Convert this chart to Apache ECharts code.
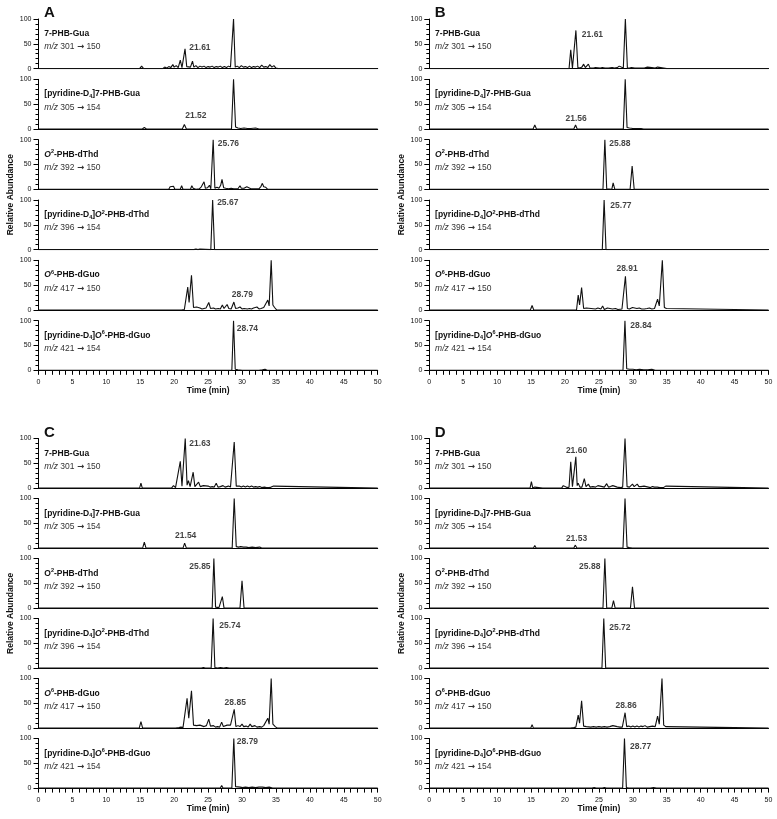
<!DOCTYPE html>
<html>
<head>
<meta charset="utf-8">
<script src="https://cdn.jsdelivr.net/npm/echarts@6/dist/echarts.min.js"></script>
<style>
  html, body { margin: 0; padding: 0; background: #fff; }
  #chart { width: 777px; height: 819px; }
</style>
</head>
<body>
<div id="chart"></div>
<script>
// axis ranges / ticks
const timeRange = [0, 50];
const timeStep = 5;
const abundanceRange = [0, 100];
const abundanceStep = 50;

const panelLetters = ["A", "B", "C", "D"];

// compound names (rich text markup) for panels A/B and C/D
const compoundNamesAB = [
  "{b|7-PHB-Gua}",
  "{b|[pyridine-D}{sub|4}{b|]7-PHB-Gua}",
  "{bi|O}{sup|2}{b|-PHB-dThd}",
  "{b|[pyridine-D}{sub|4}{b|]}{bi|O}{sup|2}{b|-PHB-dThd}",
  "{bi|O}{sup|6}{b|-PHB-dGuo}",
  "{b|[pyridine-D}{sub|4}{b|]}{bi|O}{sup|6}{b|-PHB-dGuo}"
];
const compoundNamesCD = [
  "{b|7-PHB-Gua}",
  "{b|[pyridine-D}{sub|4}{b|]7-PHB-Gua}",
  "{b|O}{sup|2}{b|-PHB-dThd}",
  "{b|[pyridine-D}{sub|4}{b|]}{bi|O}{sup|2}{b|-PHB-dThd}",
  "{bi|O}{sup|6}{b|-PHB-dGuo}",
  "{b|[pyridine-D}{sub|4}{b|]}{bi|O}{sup|6}{b|-PHB-dGuo}"
];
const precursorIons = [301, 305, 392, 396, 417, 421];
const productIons = [150, 154, 150, 154, 150, 154];

// chromatogram traces: [time (min), relative abundance]
const tracesA = [
  [[0,0],[14.9,0],[15.2,5],[15.5,0],[17.0,0],[17.2,1],[17.4,0],[18.3,0],[18.6,3],[18.9,1],[19.2,4],[19.5,2],[19.8,8],[20.0,3],[20.3,6],[20.6,2],[20.9,17],[21.15,2],[21.35,3],[21.6,40],[21.85,4],[22.1,6],[22.4,3],[22.7,15],[22.9,3],[23.2,6],[23.5,2],[23.8,5],[24.1,3],[24.4,5],[24.7,2],[25.0,4],[25.3,3],[25.6,5],[25.9,2],[26.2,4],[26.5,3],[26.8,5],[27.1,2],[27.4,4],[27.7,2],[28.0,5],[28.3,3],[28.5,2],[28.75,100],[29.0,3],[29.3,5],[29.6,2],[29.9,6],[30.2,3],[30.5,4],[30.8,2],[31.1,5],[31.4,2],[31.7,4],[32.0,3],[32.3,5],[32.6,2],[32.9,7],[33.2,3],[33.5,4],[33.8,2],[34.1,8],[34.4,3],[34.7,6],[35.0,1],[35.3,0],[50,0]],
  [[0,0],[15.3,0],[15.6,3],[15.9,0],[21.2,0],[21.5,9],[21.8,0],[27.0,0],[27.2,2],[27.4,0],[28.45,0],[28.75,100],[29.05,4],[29.4,2],[29.8,1],[30.3,2],[30.8,1],[31.3,1],[32.0,2],[32.5,0],[50,0]],
  [[0,0],[15.0,0],[15.2,3],[15.4,0],[16.9,0],[17.1,3],[17.3,0],[19.2,0],[19.4,5],[19.6,3],[19.9,6],[20.1,0],[20.9,0],[21.1,7],[21.3,0],[22.4,0],[22.6,7],[22.8,2],[23.0,6],[23.2,0],[23.7,1],[24.0,5],[24.2,2],[24.4,15],[24.6,2],[24.9,3],[25.2,8],[25.4,1],[25.5,0],[25.75,100],[26.0,2],[26.3,4],[26.6,2],[26.85,8],[27.05,20],[27.3,3],[27.6,2],[27.8,5],[28.0,1],[28.4,2],[28.6,5],[28.8,1],[29.4,1],[29.7,7],[29.9,2],[30.3,2],[30.7,5],[30.9,1],[31.3,1],[31.5,5],[31.7,1],[32.5,1],[32.8,6],[33.0,12],[33.2,5],[33.5,4],[33.8,0],[50,0]],
  [[0,0],[15.4,0],[15.6,1],[15.8,0],[22.9,0],[23.2,1],[23.5,0],[23.8,1],[24.0,0],[25.4,0],[25.67,100],[25.95,0],[26.6,0],[26.8,1],[27.0,0],[50,0]],
  [[0,0],[15.0,0],[15.2,3],[15.4,0],[19.7,0],[19.9,1],[20.1,0],[21.1,0],[21.3,3],[21.5,1],[21.75,5],[22.0,46],[22.2,15],[22.55,70],[22.85,5],[23.05,3],[23.3,6],[23.5,2],[23.8,4],[24.1,2],[24.4,3],[24.7,4],[25.1,15],[25.35,3],[25.6,2],[25.8,4],[26.1,2],[26.5,3],[26.8,2],[27.1,10],[27.35,3],[27.8,11],[28.05,3],[28.4,2],[28.8,16],[29.05,3],[29.4,4],[29.7,6],[30.0,2],[30.3,3],[30.5,5],[30.8,2],[31.1,3],[31.4,2],[31.7,4],[31.95,2],[32.2,6],[32.5,2],[32.8,3],[33.2,5],[33.45,4],[33.8,20],[34.0,8],[34.3,100],[34.55,10],[34.8,5],[35.1,0],[50,0]],
  [[0,0],[19.8,0],[20.0,1],[20.2,0],[25.1,0],[25.3,2],[25.5,0],[28.5,0],[28.75,100],[29.0,2],[29.4,1],[30.0,0],[30.9,0],[31.1,2],[31.3,0],[32.5,0],[32.7,2],[33.0,1],[33.4,2],[33.7,0],[50,0]]
];
const tracesB = [
  [[0,0],[15.0,0],[15.15,2],[15.3,0],[16.7,0],[16.85,3],[17.0,0],[18.2,0],[18.35,2],[18.5,0],[19.4,0],[19.55,2],[19.7,0],[20.6,0],[20.85,38],[21.1,1],[21.3,2],[21.61,77],[21.9,2],[22.2,1],[22.5,3],[22.75,9],[23.0,2],[23.2,3],[23.45,9],[23.7,1],[24.2,1],[24.5,2],[24.75,1],[25.2,1],[25.5,2],[25.9,1],[26.15,4],[26.4,1],[26.95,2],[27.3,1],[27.7,2],[28.0,5],[28.25,1],[28.6,1],[28.9,100],[29.2,1],[29.5,1],[29.8,2],[30.05,4],[30.3,1],[30.65,1],[30.85,3],[31.1,1],[31.7,1],[32.15,3],[32.4,1],[32.8,2],[33.05,3],[33.3,1],[33.65,3],[33.9,0],[35.0,0],[35.15,2],[35.3,0],[50,0]],
  [[0,0],[15.3,0],[15.55,8],[15.8,0],[21.3,0],[21.56,8],[21.8,0],[28.6,0],[28.88,100],[29.15,3],[29.5,2],[30.0,1],[30.6,1],[31.2,1],[31.6,0],[50,0]],
  [[0,0],[16.2,0],[16.35,1],[16.5,0],[21.1,0],[21.25,1],[21.4,0],[23.3,0],[23.45,1],[23.6,0],[24.5,0],[24.65,2],[24.8,0],[25.6,0],[25.88,100],[26.15,1],[26.9,0],[27.1,13],[27.35,0],[29.6,0],[29.9,47],[30.2,0],[30.9,0],[31.1,2],[31.3,0],[32.4,0],[32.6,2],[32.8,0],[50,0]],
  [[0,0],[14.9,0],[15.05,1],[15.2,0],[18.65,0],[18.85,3],[19.05,0],[25.5,0],[25.77,100],[26.05,0],[34.7,0],[34.85,1],[35.0,0],[50,0]],
  [[0,0],[14.9,0],[15.15,9],[15.4,0],[19.5,0],[19.65,2],[19.8,0],[20.5,0],[20.65,2],[20.8,0],[21.7,0],[21.95,30],[22.15,10],[22.45,45],[22.75,3],[22.95,2],[23.15,4],[23.4,1],[23.85,3],[24.1,1],[24.5,2],[24.85,4],[25.1,1],[25.3,2],[25.55,8],[25.8,1],[26.25,4],[26.5,1],[27.0,2],[27.45,3],[27.8,1],[28.4,2],[28.65,1],[28.91,68],[29.2,3],[29.5,2],[29.95,5],[30.2,2],[30.6,3],[30.95,4],[31.3,2],[31.7,2],[32.1,3],[32.45,4],[32.8,2],[33.2,3],[33.45,5],[33.65,22],[33.9,8],[34.35,100],[34.65,5],[34.95,3],[35.2,0],[50,0]],
  [[0,0],[17.4,0],[17.55,2],[17.7,0],[21.9,0],[22.05,1],[22.2,0],[28.55,0],[28.84,100],[29.1,3],[29.5,2],[30.0,2],[30.5,1],[31.0,2],[31.6,1],[32.2,1],[32.8,2],[33.05,3],[33.3,0],[50,0]]
];
const tracesC = [
  [[0,0],[14.9,0],[15.1,10],[15.3,0],[16.1,0],[16.2,1],[16.3,0],[18.4,0],[18.6,2],[18.8,0],[19.6,0],[19.9,5],[20.2,1],[20.45,2],[20.9,54],[21.15,4],[21.3,3],[21.63,100],[21.9,6],[22.1,15],[22.35,3],[22.55,4],[22.8,32],[23.05,3],[23.3,2],[23.6,12],[23.85,3],[24.1,2],[24.3,5],[24.55,2],[25.0,4],[25.3,2],[25.6,3],[25.9,2],[26.2,10],[26.45,2],[26.8,3],[27.2,5],[27.5,2],[28.0,4],[28.3,2],[28.55,3],[28.85,93],[29.15,4],[29.4,2],[29.6,4],[29.9,2],[30.2,4],[30.5,2],[30.8,4],[31.1,2],[31.4,4],[31.7,2],[32.0,3],[32.3,2],[32.6,3],[32.9,1],[33.3,2],[33.6,1],[34.0,1],[34.3,2],[34.65,4],[34.9,0],[50,0]],
  [[0,0],[15.35,0],[15.6,12],[15.85,0],[21.3,0],[21.54,10],[21.8,0],[24.05,0],[24.2,1],[24.35,0],[27.25,0],[27.4,1],[27.55,0],[28.55,0],[28.85,100],[29.15,3],[29.5,2],[29.8,3],[30.2,2],[30.6,2],[31.0,1],[31.5,2],[32.0,1],[32.6,2],[32.9,0],[50,0]],
  [[0,0],[19.05,0],[19.2,1],[19.35,0],[23.15,0],[23.3,1],[23.45,0],[24.25,0],[24.4,1],[24.55,0],[25.6,0],[25.85,100],[26.1,2],[26.3,3],[26.6,1],[26.85,0],[27.1,23],[27.35,0],[29.7,0],[30.0,55],[30.3,0],[32.75,0],[32.9,1],[33.05,0],[50,0]],
  [[0,0],[15.25,0],[15.4,1],[15.55,0],[24.0,0],[24.3,1],[24.6,0],[25.45,0],[25.74,100],[26.0,1],[26.4,0],[26.8,1],[27.3,0],[27.7,1],[28.1,0],[28.8,0],[29.0,3],[29.2,0],[50,0]],
  [[0,0],[14.85,0],[15.1,13],[15.35,0],[20.2,0],[20.4,2],[20.7,1],[21.0,2],[21.3,1],[21.5,3],[21.9,60],[22.15,20],[22.55,75],[22.85,6],[23.05,3],[23.3,5],[23.55,2],[23.8,6],[24.05,2],[24.4,3],[24.75,5],[25.1,18],[25.35,4],[25.6,2],[25.8,5],[26.1,2],[26.4,3],[26.7,2],[27.0,12],[27.25,3],[27.5,2],[27.8,6],[28.05,3],[28.3,6],[28.55,2],[28.85,38],[29.1,3],[29.4,5],[29.7,3],[30.0,8],[30.25,3],[30.6,4],[30.9,2],[31.2,8],[31.45,3],[31.9,5],[32.2,2],[32.6,3],[32.9,2],[33.2,5],[33.45,4],[33.8,20],[34.0,8],[34.3,100],[34.55,8],[34.9,3],[35.2,0],[50,0]],
  [[0,0],[15.05,0],[15.2,1],[15.35,0],[19.85,0],[20.0,1],[20.15,0],[25.1,0],[25.3,3],[25.5,0],[26.8,0],[27.0,5],[27.2,0],[28.5,0],[28.79,100],[29.05,3],[29.3,1],[29.7,2],[30.1,1],[30.5,2],[31.0,1],[31.5,2],[32.0,1],[32.5,2],[33.0,2],[33.5,1],[34.0,2],[34.5,0],[50,0]]
];
const tracesD = [
  [[0,0],[14.85,0],[15.05,13],[15.25,0],[15.45,0],[15.55,2],[15.65,0],[16.7,0],[16.85,3],[17.0,0],[19.5,0],[19.75,5],[20.0,1],[20.3,1],[20.6,2],[20.85,53],[21.1,3],[21.3,2],[21.6,63],[21.8,5],[21.95,10],[22.2,2],[22.5,2],[22.85,19],[23.1,3],[23.45,8],[23.7,2],[24.1,3],[24.5,2],[24.85,5],[25.1,2],[25.5,3],[25.8,2],[26.15,9],[26.4,2],[26.7,3],[27.05,5],[27.3,2],[27.7,2],[27.95,4],[28.2,1],[28.5,2],[28.85,100],[29.15,3],[29.5,2],[29.75,3],[29.95,8],[30.2,3],[30.45,4],[30.65,8],[30.9,3],[31.2,3],[31.45,2],[31.65,4],[31.9,2],[32.3,2],[32.6,1],[32.9,3],[33.2,2],[33.6,2],[34.0,1],[34.5,1],[34.85,4],[35.1,0],[50,0]],
  [[0,0],[15.35,0],[15.55,5],[15.75,0],[21.3,0],[21.53,6],[21.75,0],[28.55,0],[28.85,100],[29.15,2],[29.5,1],[29.9,0],[31.3,0],[31.45,1],[31.6,0],[50,0]],
  [[0,0],[14.9,0],[15.05,1],[15.2,0],[25.6,0],[25.88,100],[26.15,0],[26.9,0],[27.15,15],[27.4,0],[27.7,0],[27.85,2],[28.0,0],[29.65,0],[29.95,43],[30.25,0],[32.6,0],[32.75,3],[32.9,0],[50,0]],
  [[0,0],[25.45,0],[25.72,100],[26.0,0],[29.0,0],[29.15,2],[29.3,0],[50,0]],
  [[0,0],[14.95,0],[15.15,7],[15.35,0],[19.6,0],[19.75,1],[19.9,0],[20.8,0],[21.0,2],[21.3,1],[21.6,2],[21.95,26],[22.15,10],[22.45,55],[22.75,4],[22.95,2],[23.15,3],[23.4,1],[23.8,2],[24.2,3],[24.6,2],[25.0,3],[25.4,2],[25.8,3],[26.2,2],[26.6,3],[27.05,5],[27.3,2],[27.7,3],[28.1,2],[28.45,2],[28.86,31],[29.1,3],[29.4,4],[29.7,2],[30.0,4],[30.3,2],[30.6,4],[30.9,2],[31.2,4],[31.5,3],[31.8,5],[32.1,2],[32.5,3],[32.9,4],[33.3,3],[33.65,24],[33.9,8],[34.3,100],[34.55,6],[34.85,3],[35.1,0],[50,0]],
  [[0,0],[24.0,0],[24.3,1],[24.6,0],[25.5,0],[25.8,1],[26.1,0],[28.5,0],[28.77,100],[29.05,1],[29.4,0],[30.1,0],[30.25,1],[30.4,0],[32.6,0],[32.8,2],[33.05,1],[33.3,2],[33.5,0],[50,0]]
];

// retention-time annotations: [time, abundance, text]
const peakLabelsA = [[23.8,42,"21.61"],[23.2,26,"21.52"],[28.0,92,"25.76"],[27.9,95,"25.67"],[30.05,30,"28.79"],[30.8,84,"28.74"]];
const peakLabelsB = [[24.05,69,"21.61"],[21.65,20,"21.56"],[28.1,92,"25.88"],[28.25,88,"25.77"],[29.15,83,"28.91"],[31.2,89,"28.84"]];
const peakLabelsC = [[23.8,90,"21.63"],[21.7,26,"21.54"],[23.8,84,"25.85"],[28.2,85,"25.74"],[29.0,52,"28.85"],[30.8,93,"28.79"]];
const peakLabelsD = [[21.7,76,"21.60"],[21.7,20,"21.53"],[23.65,84,"25.88"],[28.1,82,"25.72"],[29.0,45,"28.86"],[31.15,83,"28.77"]];

const FONT = '"Liberation Sans", Arial, Helvetica, sans-serif';
const INK = "#111";

const panels = [
  { letter: panelLetters[0], traces: tracesA, labels: peakLabelsA, names: compoundNamesAB, left: 38.5, top: 19, pitch: 60.34 },
  { letter: panelLetters[1], traces: tracesB, labels: peakLabelsB, names: compoundNamesAB, left: 429.3, top: 19, pitch: 60.34 },
  { letter: panelLetters[2], traces: tracesC, labels: peakLabelsC, names: compoundNamesCD, left: 38.5, top: 438.5, pitch: 60 },
  { letter: panelLetters[3], traces: tracesD, labels: peakLabelsD, names: compoundNamesCD, left: 429.3, top: 438.5, pitch: 60 }
];
const plotW = 339.2;
const plotH = 49.6;

const richStyles = {
  b: { fontFamily: FONT, fontSize: 8.5, fontWeight: "bold", fill: INK, lineHeight: 11 },
  bi: { fontFamily: FONT, fontSize: 8.5, fontWeight: "bold", fontStyle: "italic", fill: INK, lineHeight: 11 },
  sub: { fontFamily: FONT, fontSize: 5.5, fontWeight: "bold", fill: INK, lineHeight: 6, verticalAlign: "bottom" },
  sup: { fontFamily: FONT, fontSize: 5.5, fontWeight: "bold", fill: INK, lineHeight: 6, verticalAlign: "top" },
  i: { fontFamily: FONT, fontSize: 8.5, fontStyle: "italic", fill: "#333", lineHeight: 11 },
  r: { fontFamily: FONT, fontSize: 8.5, fill: "#333", lineHeight: 11 },
  arr: { fontFamily: '"DejaVu Sans", sans-serif', fontSize: 8.5, fontWeight: "bold", fill: "#333", lineHeight: 11 }
};

const grids = [], xAxes = [], yAxes = [], series = [], graphics = [];

panels.forEach((p, pi) => {
  graphics.push({
    type: "text", x: p.left + 5.5, y: p.top - 6,
    style: { text: p.letter, fontFamily: FONT, fontSize: 15, fontWeight: "bold", fill: INK, textAlign: "left", textVerticalAlign: "middle" }
  });
  const panelMid = p.top + (5 * p.pitch + plotH) / 2;
  graphics.push({
    type: "text", x: p.left - 27.5, y: panelMid, rotation: Math.PI / 2,
    style: { text: "Relative Abundance", fontFamily: FONT, fontSize: 8.5, fontWeight: "bold", fill: INK, textAlign: "center", textVerticalAlign: "middle" }
  });

  p.traces.forEach((trace, i) => {
    const k = pi * 6 + i;
    const top = p.top + i * p.pitch;
    const isBottom = i === 5;
    grids.push({ left: p.left, top: top, width: plotW, height: plotH, containLabel: false });
    xAxes.push({
      type: "value", gridIndex: k, min: timeRange[0], max: timeRange[1], interval: timeStep,
      axisLine: { show: true, onZero: false, lineStyle: { color: "#000", width: 1 } },
      axisTick: { show: isBottom, length: 4.5, lineStyle: { color: "#000" } },
      minorTick: { show: isBottom, splitNumber: 5, length: 4.5, lineStyle: { color: "#000" } },
      axisLabel: { show: isBottom, fontFamily: FONT, fontSize: 7, color: INK, margin: 8 },
      splitLine: { show: false },
      name: isBottom ? "Time (min)" : "",
      nameLocation: "middle", nameGap: 15,
      nameTextStyle: { fontFamily: FONT, fontSize: 8.5, fontWeight: "bold", color: INK }
    });
    yAxes.push({
      type: "value", gridIndex: k, min: abundanceRange[0], max: abundanceRange[1], interval: abundanceStep,
      axisLine: { show: true, lineStyle: { color: "#000", width: 1 } },
      axisTick: { show: true, length: 5, lineStyle: { color: "#000" } },
      minorTick: { show: true, splitNumber: 5, length: 3, lineStyle: { color: "#000" } },
      axisLabel: { fontFamily: FONT, fontSize: 7, color: INK, margin: 7 },
      splitLine: { show: false }
    });
    series.push({
      type: "line", xAxisIndex: k, yAxisIndex: k, data: trace,
      symbol: "none", silent: true,
      lineStyle: { color: "#111", width: 1.1 }
    });
    const lab = p.labels[i];
    series.push({
      type: "scatter", xAxisIndex: k, yAxisIndex: k, silent: true,
      symbolSize: 1, itemStyle: { color: "rgba(0,0,0,0)" },
      data: [{ value: [lab[0], lab[1]], name: lab[2] }],
      label: { show: true, position: "inside", formatter: "{b}", fontFamily: FONT, fontSize: 8.5, fontWeight: "bold", color: INK },
      z: 5
    });
    graphics.push({
      type: "text", x: p.left + 5.8, y: top + 14.7,
      style: { text: p.names[i], rich: richStyles, fontFamily: FONT, fontSize: 8.5, fill: INK, textAlign: "left", textVerticalAlign: "middle" }
    });
    graphics.push({
      type: "text", x: p.left + 5.8, y: top + 28,
      style: { text: "{i|m/z} {r|" + precursorIons[i] + " }{arr|→}{r| " + productIons[i] + "}", rich: richStyles, fontFamily: FONT, fontSize: 8.5, fill: "#333", textAlign: "left", textVerticalAlign: "middle" }
    });
  });
});

const chart = echarts.init(document.getElementById("chart"), null, { renderer: "canvas" });
chart.setOption({
  animation: false,
  backgroundColor: "#fff",
  grid: grids,
  xAxis: xAxes,
  yAxis: yAxes,
  series: series,
  graphic: graphics
});
</script>
</body>
</html>
